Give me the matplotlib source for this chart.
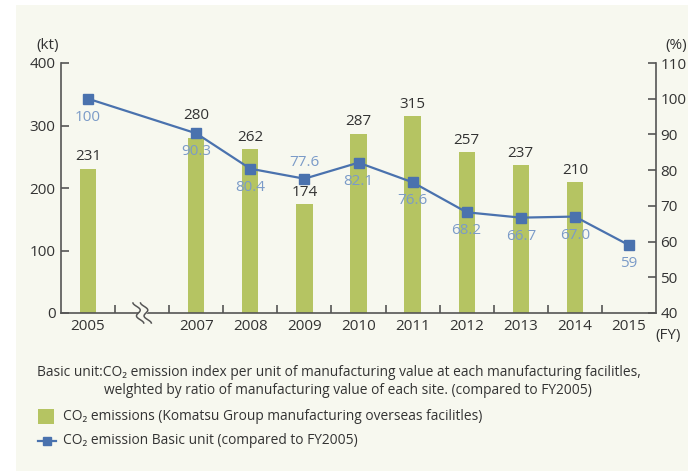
import numpy as np
import matplotlib.pyplot as plt
from matplotlib.patches import Rectangle
from matplotlib.lines import Line2D
import matplotlib.transforms as mtransforms

plt.rcParams['font.family'] = ['Open Sans', 'DejaVu Sans']

# data
years = ['2005', '2007', '2008', '2009', '2010', '2011', '2012', '2013', '2014', '2015']
slots = [0, 2, 3, 4, 5, 6, 7, 8, 9, 10]   # slot 1 is the axis break
co2_kt = [231, 280, 262, 174, 287, 315, 257, 237, 210]   # no bar for 2015
basic_unit = [100, 90.3, 80.4, 77.6, 82.1, 76.6, 68.2, 66.7, 67.0, 59]
unit_labels = ['100', '90.3', '80.4', '77.6', '82.1', '76.6', '68.2', '66.7', '67.0', '59']
unit_label_above = [False, False, False, True, False, False, False, False, False, False]

BG = '#f7f8ef'
BAR = '#b5c462'
LINE = '#4a72ae'
LINE_TXT = '#7b9bc8'
TXT = '#333333'
SPINE = '#555555'
FS = 11

W, H = 688, 471
fig = plt.figure(figsize=(W / 100, H / 100), dpi=100)
fig.patch.set_facecolor('white')
fig.patches.append(Rectangle((16 / W, 0), 1 - 16 / W, 1 - 5 / H,
                             transform=fig.transFigure, facecolor=BG,
                             edgecolor='none', zorder=-10))

ax = fig.add_axes([61 / W, 1 - 313 / H, (656 - 61) / W, (313 - 63) / H])
ax.set_facecolor('none')
ax2 = ax.twinx()

ax.set_xlim(-0.5, 10.5)
ax.set_ylim(0, 400)
ax2.set_ylim(40, 110)

# bars
bar_x = slots[:len(co2_kt)]
ax.bar(bar_x, co2_kt, width=0.3, color=BAR, zorder=2)
for i, (x, v) in enumerate(zip(bar_x, co2_kt)):
    # the 2007 label sits higher so it clears the line marker
    off = 11 if i == 1 else 3
    ax.annotate(str(v), (x, v), xytext=(0, off), textcoords='offset points',
                ha='center', va='bottom', fontsize=FS, color=TXT)

# basic unit line
ax2.plot(slots, basic_unit, color=LINE, lw=1.6, marker='s', ms=7, zorder=3)
for x, v, lab, up in zip(slots, basic_unit, unit_labels, unit_label_above):
    if up:
        ax2.annotate(lab, (x, v), xytext=(0, 6), textcoords='offset points',
                     ha='center', va='bottom', fontsize=FS, color=LINE_TXT)
    else:
        ax2.annotate(lab, (x, v), xytext=(0, -8), textcoords='offset points',
                     ha='center', va='top', fontsize=FS, color=LINE_TXT)

# axes styling
for a in (ax, ax2):
    a.spines['top'].set_visible(False)
    for s in ('left', 'right', 'bottom'):
        a.spines[s].set_color(SPINE)
        a.spines[s].set_linewidth(1.2)
ax.spines['right'].set_visible(False)
ax2.spines['left'].set_visible(False)
ax2.spines['bottom'].set_visible(False)

ax.set_yticks([0, 100, 200, 300, 400])
ax.tick_params(axis='y', direction='in', length=6, width=1.2, color=SPINE,
               labelsize=FS, labelcolor=TXT, pad=4)
ax2.set_yticks(range(40, 111, 10))
ax2.tick_params(axis='y', direction='in', length=6, width=1.2, color=SPINE,
                labelsize=FS, labelcolor=TXT, pad=3)

# x ticks: labels at slots, tick marks at slot boundaries
ax.set_xticks(slots)
ax.set_xticklabels(years)
ax.tick_params(axis='x', length=0, labelsize=FS, labelcolor=TXT, pad=4)
ax.set_xticks(np.arange(0.5, 10, 1.0), minor=True)
ax.tick_params(axis='x', which='minor', direction='in', length=6, width=1.2, color=SPINE)

# break mark on the x axis
trans = mtransforms.blended_transform_factory(ax.transData, ax.transAxes)
t = np.linspace(-1, 1, 60)
dy = t * 0.04
wave = 0.05 * np.sin(t * np.pi * 1.5) - t * 0.05
ax.fill_betweenx(dy, 1 - 0.06 + wave, 1 + 0.06 + wave,
                 color=BG, transform=trans, clip_on=False, zorder=4)
for off in (-0.07, 0.07):
    ax.plot(1 + off + wave, dy, color=SPINE, lw=1.1, transform=trans,
            clip_on=False, zorder=5)

# unit labels
fig.text(48 / W, 1 - 46 / H, '(kt)', ha='center', va='center', fontsize=FS, color=TXT)
fig.text(676 / W, 1 - 46 / H, '(%)', ha='center', va='center', fontsize=FS, color=TXT)
fig.text(668 / W, 1 - 336 / H, '(FY)', ha='center', va='center', fontsize=FS, color=TXT)

# note
fig.text(37 / W, 1 - 373 / H,
         'Basic unit:CO\u2082 emission index per unit of manufacturing value at each manufacturing facilitles,',
         ha='left', va='center', fontsize=9.9, color=TXT)
fig.text(104 / W, 1 - 390 / H,
         'welghted by ratio of manufacturing value of each site. (compared to FY2005)',
         ha='left', va='center', fontsize=9.9, color=TXT)

# legend
fig.patches.append(Rectangle((38 / W, 1 - 424 / H), 16 / W, 15 / H,
                             transform=fig.transFigure, facecolor=BAR, edgecolor='none'))
fig.text(63 / W, 1 - 417 / H,
         'CO\u2082 emissions (Komatsu Group manufacturing overseas facilitles)',
         ha='left', va='center', fontsize=9.9, color=TXT)
fig.lines.append(Line2D([38 / W, 56 / W], [1 - 441 / H, 1 - 441 / H],
                        transform=fig.transFigure, color=LINE, lw=1.6))
fig.lines.append(Line2D([47 / W], [1 - 441 / H], transform=fig.transFigure,
                        color=LINE, marker='s', ms=6, lw=0))
fig.text(63 / W, 1 - 441 / H,
         'CO\u2082 emission Basic unit (compared to FY2005)',
         ha='left', va='center', fontsize=9.9, color=TXT)

fig.savefig('out.png', dpi=100)
